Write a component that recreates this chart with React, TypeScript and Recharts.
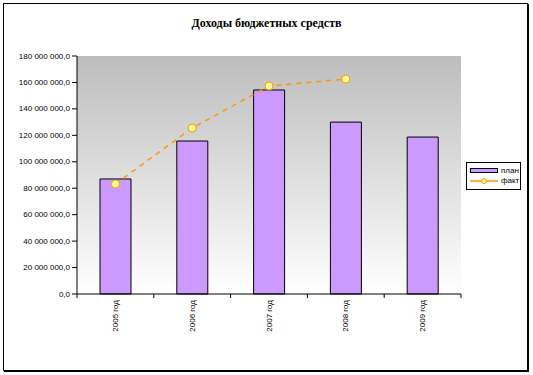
import React from 'react'
import {
  ComposedChart, Bar, Line, XAxis, YAxis, CartesianGrid, Legend,
} from 'recharts'

// ── Data ──────────────────────────────────────────────────────────────────────

const YEARS = ['2005 год', '2006 год', '2007 год', '2008 год', '2009 год']
const PLAN = [87000000, 115700000, 154300000, 130000000, 118700000]
const FACT: (number | null)[] = [83200000, 125500000, 157300000, 162600000, null]
const Y_TICKS = [0, 20000000, 40000000, 60000000, 80000000, 100000000, 120000000, 140000000, 160000000, 180000000]

const data = YEARS.map((year, i) => ({ year, plan: PLAN[i], fact: FACT[i] }))

const FONT = 'Arial, "Liberation Sans", sans-serif'

const fmt = (v: number) => String(Math.round(v)).replace(/\B(?=(\d{3})+(?!\d))/g, ' ') + ',0'

// category label rotated, plus Excel-style tick marks on the category boundaries
// (label position sits tickSize + tickMargin = 6px below the axis line)
// eslint-disable-next-line @typescript-eslint/no-explicit-any
const YearTick = ({ x, y, payload, index, visibleTicksCount }: any) => {
  const half = payload?.offset ?? 0
  const axisY = y - 6
  return (
    <g>
      <line x1={x - half} x2={x - half} y1={axisY} y2={axisY + 4} stroke="#000" />
      {index === visibleTicksCount - 1 && (
        <line x1={x + half} x2={x + half} y1={axisY} y2={axisY + 4} stroke="#000" />
      )}
      <text
        x={x}
        y={y}
        transform={`rotate(-90 ${x} ${y})`}
        textAnchor="end"
        dominantBaseline="central"
        fontSize={8}
        fontFamily={FONT}
        fill="#000"
      >
        {payload.value}
      </text>
    </g>
  )
}

// eslint-disable-next-line @typescript-eslint/no-explicit-any
const ValueTick = ({ x, y, payload }: any) => (
  <text x={x} y={y} textAnchor="end" dominantBaseline="central" fontSize={8} fontFamily={FONT} fill="#000">
    {fmt(payload.value)}
  </text>
)

// eslint-disable-next-line @typescript-eslint/no-explicit-any
const LegendBox = ({ payload }: any) => (
  <div
    style={{
      border: '1px solid #000', background: '#fff', width: 50, padding: '3px 0 3px 3px',
      fontFamily: FONT, fontSize: 8, lineHeight: '10px', boxSizing: 'content-box',
    }}
  >
    {(payload ?? []).map((p: any) => (
      <div key={p.dataKey} style={{ display: 'flex', alignItems: 'center', height: 10 }}>
        <svg width={28} height={8} style={{ marginRight: 3 }}>
          {p.dataKey === 'plan' ? (
            <rect x={0.5} y={1.5} width={27} height={4} fill="#cc99ff" stroke="#000" />
          ) : (
            <>
              <line x1={0} y1={4} x2={28} y2={4} stroke="#ff9900" strokeWidth={1.5} />
              <circle cx={14} cy={4} r={2.5} fill="#ffff99" stroke="#ff9900" />
            </>
          )}
        </svg>
        <span>{p.value}</span>
      </div>
    ))}
  </div>
)

export default function App() {
  return (
    <div style={{ position: 'fixed', left: 0, top: 0, width: 533, height: 375, background: '#fff' }}>
      <div
        style={{
          position: 'absolute', left: 3, top: 3, width: 523, height: 366,
          border: '1px solid #000', boxShadow: '1px 1px 0 #000',
        }}
      />
      <div
        style={{
          position: 'absolute', left: 0, top: 16, width: 533, textAlign: 'center',
          fontFamily: '"Times New Roman", "Liberation Serif", serif', fontWeight: 'bold', fontSize: 12,
        }}
      >
        Доходы бюджетных средств
      </div>
      <ComposedChart
        width={533}
        height={375}
        data={data}
        margin={{ top: 56, right: 72, left: 0, bottom: 36 }}
        style={{ position: 'absolute', left: 0, top: 0 }}
      >
        <defs>
          <linearGradient id="plotBg" x1="0" y1="0" x2="0" y2="1">
            <stop offset="0%" stopColor="#bdbdbd" />
            <stop offset="100%" stopColor="#ffffff" />
          </linearGradient>
        </defs>
        <CartesianGrid horizontal={false} vertical={false} fill="url(#plotBg)" />
        <XAxis
          dataKey="year"
          height={45}
          tick={<YearTick />}
          tickSize={4}
          tickMargin={2}
          tickLine={false}
          axisLine={{ stroke: '#000' }}
          interval={0}
        />
        <YAxis
          domain={[0, 180000000]}
          ticks={Y_TICKS}
          width={77}
          tickSize={5}
          tick={<ValueTick />}
          axisLine={{ stroke: '#000' }}
          tickLine={{ stroke: '#000' }}
        />
        <Bar dataKey="plan" name="план" fill="#cc99ff" stroke="#000" strokeWidth={1} barSize={31} isAnimationActive={false} />
        <Line
          dataKey="fact"
          name="факт"
          type="linear"
          stroke="#ff9900"
          strokeWidth={1.5}
          strokeDasharray="5 5"
          dot={{ r: 4, fill: '#ffff99', stroke: '#ff9900', strokeWidth: 1, strokeDasharray: '' }}
          isAnimationActive={false}
        />
        <Legend
          layout="vertical"
          align="center"
          verticalAlign="middle"
          content={<LegendBox />}
          wrapperStyle={{ position: 'absolute', left: 466, top: 162, width: 'auto' }}
        />
      </ComposedChart>
    </div>
  )
}
